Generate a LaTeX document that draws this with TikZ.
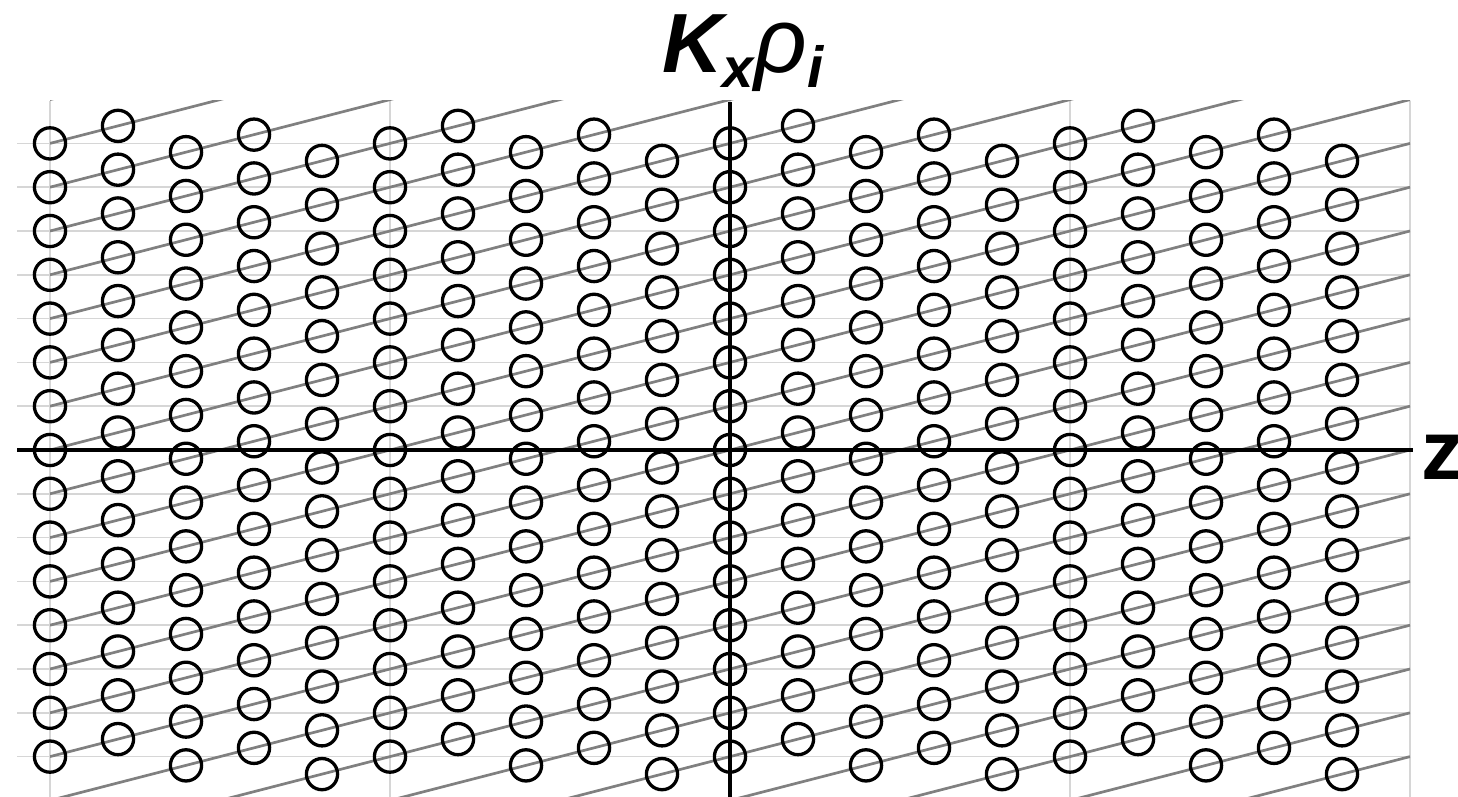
\documentclass[tikz,border=0pt]{standalone}
\usepackage{fontspec}
\setmainfont{Liberation Sans}
\definecolor{gridgray}{RGB}{214,214,214}
\definecolor{linegray}{RGB}{128,128,128}
\begin{document}
\begin{tikzpicture}[x=1pt,y=-1pt,
  gridln/.style={draw=gridgray,line width=1.6pt},
  slantln/.style={draw=linegray,line width=2.7pt},
  ringmark/.style={draw=black,line width=3.3pt},
  axisln/.style={draw=black,line width=4pt},
  lbl/.style={inner sep=0pt,anchor=base west}]
\useasboundingbox (0,0) rectangle (1458,797);
% vertical grid lines
\foreach \gx in {50,390,730,1070,1410}
  \draw[gridln] (\gx,101) -- (\gx,797);
% horizontal grid lines
\foreach \n in {-7,...,-1,1,2,...,7}
  \draw[gridln] (17,{450-43.8*\n}) -- (1410,{450-43.8*\n});
% slanted lines
\begin{scope}
  \clip (50,101) rectangle (1410,797);
  \foreach \c in {-16,...,8}
    \draw[slantln] (50,{450-43.8*\c}) -- (1410,{450-43.8*(\c+8)});
\end{scope}
% circles
\foreach \j in {0,...,19}{
  \pgfmathsetmacro\off{mod(4*\j,10)/10}
  \foreach \n in {-8,...,8}{
    \pgfmathsetmacro\yy{\n+\off}
    \ifdim \yy pt < 7.51pt
      \ifdim \yy pt > -7.51pt
        \draw[ringmark] ({50+68*\j},{450-43.8*\yy}) circle[radius=15.6];
      \fi
    \fi
  }
}
% axes
\coordinate (zl) at (17,450);
\coordinate (zr) at (1413,450);
\coordinate (kt) at (730,102);
\coordinate (kb) at (730,797);
\draw[axisln] (zl) -- (zr);
\draw[axisln] (kt) -- (kb);
% labels
\node[lbl] (klabel) at (662,73) {\fontsize{84}{84}\selectfont\bfseries\itshape K\raisebox{-15pt}{\fontsize{56}{56}\selectfont x}{\mdseries\fontsize{92}{92}\selectfont ρ}\hspace{1pt}\raisebox{-15pt}{\fontsize{58}{58}\selectfont\bfseries\itshape i}};
\node[lbl] (zlabel) at (1421,479) {\fontsize{84}{84}\selectfont\bfseries z};
\end{tikzpicture}
\end{document}
